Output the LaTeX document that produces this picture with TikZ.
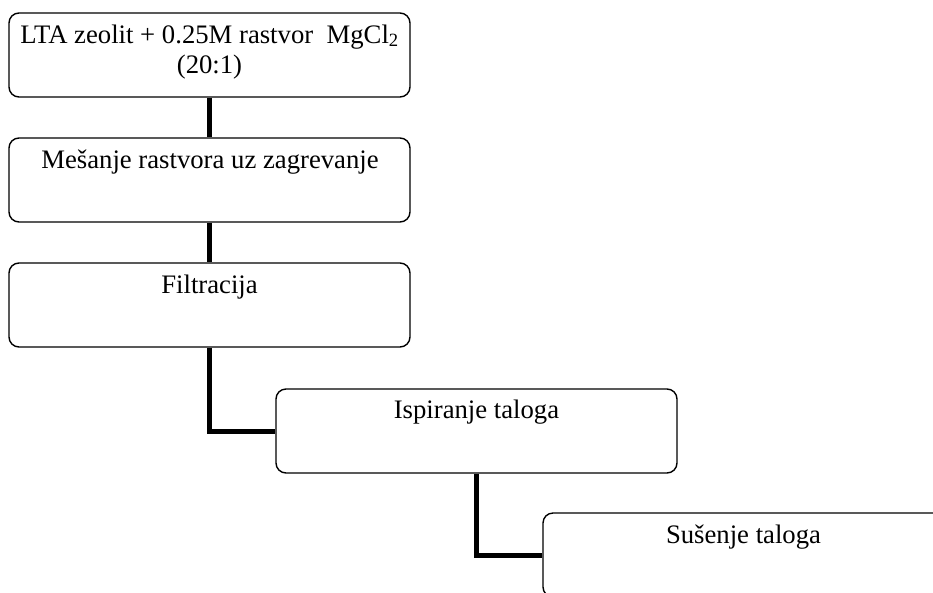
\documentclass[tikz,border=0pt]{standalone}
\usepackage{fontspec}
\setmainfont{Liberation Serif}
\begin{document}
\begin{tikzpicture}[x=1pt,y=-1pt,
  boxstyle/.style={draw=black,line width=1.4pt,rounded corners=10pt,inner sep=0pt},
  txtstyle/.style={anchor=base,inner sep=0pt,font=\fontsize{26.7}{30.5}\selectfont,align=center},
  linkstyle/.style={line width=5pt,draw=black}]
\useasboundingbox (0,0) rectangle (933,592);
\clip (0,0) rectangle (933,592);
% boxes
\node[boxstyle,minimum width=401pt,minimum height=84pt] (b1) at (209.5,55) {};
\node[boxstyle,minimum width=401pt,minimum height=84pt] (b2) at (209.5,180) {};
\node[boxstyle,minimum width=401pt,minimum height=84pt] (b3) at (209.5,305) {};
\node[boxstyle,minimum width=401pt,minimum height=84pt] (b4) at (476.5,431) {};
\node[boxstyle,minimum width=401pt,minimum height=84pt] (b5) at (743.5,555) {};
% texts
\node[txtstyle] (t1) at (209.5,73.5) {LTA zeolit + 0.25M rastvor\enspace MgCl\textsubscript{2}\\(20:1)};
\node[txtstyle] (t2) at (210,168) {Mešanje rastvora uz zagrevanje};
\node[txtstyle] (t3) at (209.5,293) {Filtracija};
\node[txtstyle] (t4) at (476.5,418) {Ispiranje taloga};
\node[txtstyle] (t5) at (743.5,543) {Sušenje taloga};
% connectors
\draw[linkstyle] (b1.south) -- (b2.north);
\draw[linkstyle] (b2.south) -- (b3.north);
\draw[linkstyle] (b3.south) |- (b4.west);
\draw[linkstyle] (b4.south) |- (b5.west);
\end{tikzpicture}
\end{document}
